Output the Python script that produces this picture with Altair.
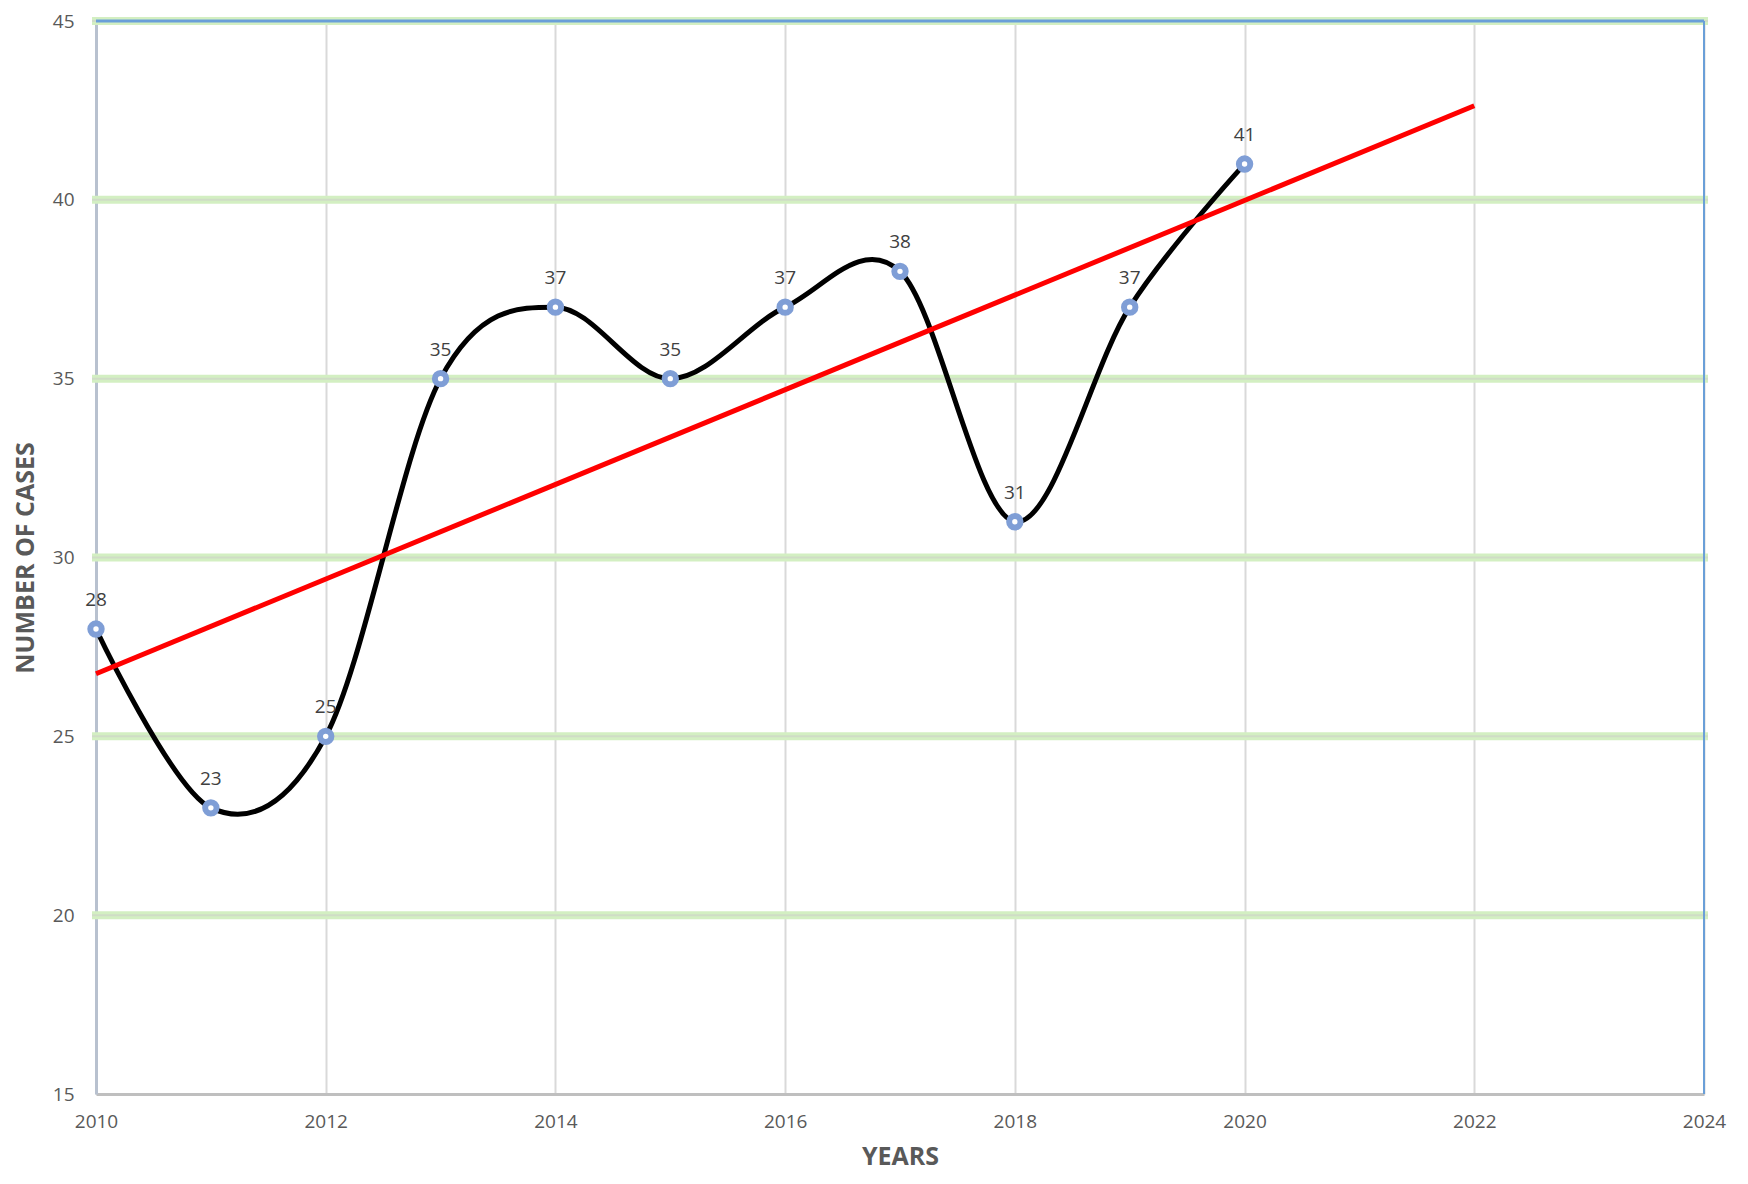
import altair as alt
import pandas as pd

years = [2010, 2011, 2012, 2013, 2014, 2015, 2016, 2017, 2018, 2019, 2020]
cases = [28, 23, 25, 35, 37, 35, 37, 38, 31, 37, 41]
trend_years = [2010, 2022]
trend_values = [26.75, 42.63]
x_ticks = [2010, 2012, 2014, 2016, 2018, 2020, 2022, 2024]
y_ticks = [15, 20, 25, 30, 35, 40, 45]
green_lines = [20, 25, 30, 35, 40, 45]

FONT = "Open Sans"
W, H = 1608, 1073

df = pd.DataFrame({"year": years, "cases": cases})
trend = pd.DataFrame({"year": trend_years, "cases": trend_values})
grid = pd.DataFrame({"v": green_lines})
top_border = pd.DataFrame({"v": [45]})
right_border = pd.DataFrame({"year": [2024]})

xscale = alt.Scale(domain=[2010, 2024], nice=False, zero=False)
yscale = alt.Scale(domain=[15, 45], nice=False, zero=False)

x_axis = alt.Axis(
    values=x_ticks, format="d", title="YEARS", grid=True, gridColor="#d9d9d9",
    gridWidth=2, domainColor="#bfbfbf", domainWidth=3, ticks=False, labelFlush=False,
    labelPadding=18, labelFont=FONT, labelFontSize=19, labelColor="#595959",
    titleFont=FONT, titleFontSize=25, titleFontWeight="bold", titleColor="#595959",
    titleY=70, titleBaseline="alphabetic",
)
y_axis = alt.Axis(
    values=y_ticks, title="NUMBER OF CASES", grid=False, domainColor="#b8c1cf",
    domainWidth=3, ticks=False, labelFlush=False, labelPadding=22, labelFont=FONT,
    labelFontSize=19, labelColor="#595959", titleFont=FONT, titleFontSize=25,
    titleFontWeight="bold", titleColor="#595959", titleX=-63, titleAngle=-90,
    titleBaseline="alphabetic",
)

base_axes = alt.Chart(df).mark_point(opacity=0).encode(
    x=alt.X("year:Q", scale=xscale, axis=x_axis),
    y=alt.Y("cases:Q", scale=yscale, axis=y_axis),
)

green = alt.Chart(grid).mark_rule(color="#d3efc2", strokeWidth=8).encode(
    y=alt.Y("v:Q", scale=yscale), x=alt.value(-4), x2=alt.value(W + 4)
)
green_core = alt.Chart(grid).mark_rule(color="#cfdcc6", strokeWidth=2).encode(
    y=alt.Y("v:Q", scale=yscale), x=alt.value(-4), x2=alt.value(W + 4)
)
top_line = alt.Chart(top_border).mark_rule(color="#6a9fd8", strokeWidth=3).encode(
    y=alt.Y("v:Q", scale=yscale), x=alt.value(0), x2=alt.value(W)
)
right_line = alt.Chart(right_border).mark_rule(color="#6a9fd8", strokeWidth=2).encode(
    x=alt.X("year:Q", scale=xscale), y=alt.value(0), y2=alt.value(H)
)

curve = alt.Chart(df).mark_line(color="black", strokeWidth=5, interpolate="cardinal").encode(
    x=alt.X("year:Q", scale=xscale), y=alt.Y("cases:Q", scale=yscale)
)
trend_line = alt.Chart(trend).mark_line(color="#ff0000", strokeWidth=5).encode(
    x=alt.X("year:Q", scale=xscale), y=alt.Y("cases:Q", scale=yscale)
)
points = alt.Chart(df).mark_point(
    shape="circle", size=130, filled=False, fill="white", fillOpacity=1,
    stroke="#7f9ed6", strokeWidth=6, opacity=1,
).encode(x=alt.X("year:Q", scale=xscale), y=alt.Y("cases:Q", scale=yscale))
labels = alt.Chart(df).mark_text(
    dy=-23, baseline="alphabetic", align="center", font=FONT, fontSize=19, color="#404040"
).encode(
    x=alt.X("year:Q", scale=xscale), y=alt.Y("cases:Q", scale=yscale), text=alt.Text("cases:Q")
)

chart = alt.layer(
    base_axes, green, green_core, top_line, right_line, curve, trend_line, points, labels
).properties(
    width=W, height=H,
    autosize=alt.AutoSizeParams(type="none"),
    padding={"left": 88, "top": 13, "right": 36, "bottom": 77},
).configure_view(stroke=None).configure(background="white")

chart.save("out.html", embed_options={"renderer": "svg", "actions": False})
